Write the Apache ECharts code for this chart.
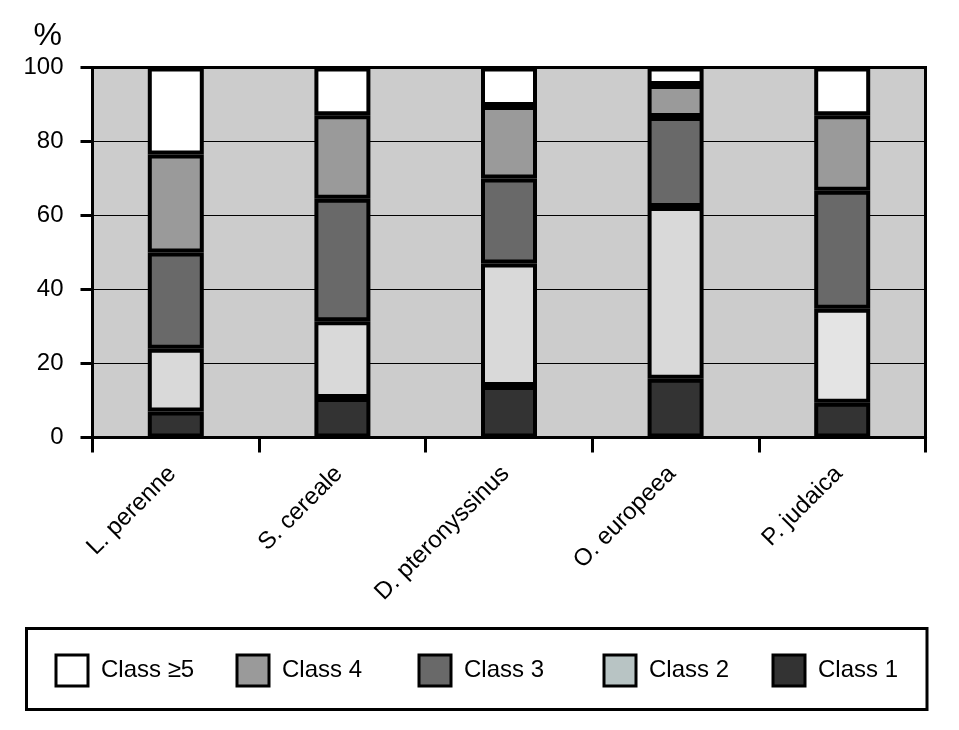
<!DOCTYPE html>
<html>
<head>
<meta charset="utf-8">
<script src="https://cdn.jsdelivr.net/npm/echarts@6/dist/echarts.min.js"></script>
<style>
html,body{margin:0;padding:0;background:#fff;}
#chart{width:959px;height:730px;}
</style>
</head>
<body>
<div id="chart"></div>
<script>
const categories = ['L. perenne', 'S. cereale', 'D. pteronyssinus', 'O. europeea', 'P. judaica'];
const yTicks = [0, 20, 40, 60, 80, 100];
const class1 = [7, 10.7, 13.9, 15.9, 9.4];
const class2 = [17, 20.7, 33.1, 46.4, 25.4];
const class3 = [26, 33.1, 23, 24.3, 31.9];
const class4 = [26.5, 22.6, 19.6, 8.7, 20.4];
const class5 = [23.5, 12.9, 10.4, 4.7, 12.9];
const seriesNames = ['Class 1', 'Class 2', 'Class 3', 'Class 4', 'Class \u22655'];

const seriesValues = [class1, class2, class3, class4, class5];
const seriesColors = ['#333333', '#d9d9d9', '#696969', '#9a9a9a', '#ffffff'];
const legendColors = {'Class 2': '#b8c4c4'};
const FONT = '"Liberation Sans", Arial, Helvetica, sans-serif';

const chart = echarts.init(document.getElementById('chart'), null, {renderer: 'canvas'});

const series = seriesNames.map((name, i) => ({
  name: name,
  type: 'bar',
  stack: 'total',
  barWidth: 56,
  data: seriesValues[i].map((v, j) => {
    const d = {value: v};
    if (i === 1 && j === 4) d.itemStyle = {color: '#e4e4e4'};
    return d;
  }),
  itemStyle: {color: seriesColors[i], borderColor: '#000', borderWidth: 4},
  emphasis: {disabled: true}
}));

const legendOrder = ['Class \u22655', 'Class 4', 'Class 3', 'Class 2', 'Class 1'];
const legendLeft = [54.5, 235.5, 417.5, 602.5, 771.5];
const legends = legendOrder.map((name, i) => ({
  show: true,
  left: legendLeft[i],
  top: 653.5,
  padding: 0,
  orient: 'horizontal',
  icon: 'rect',
  itemWidth: 32,
  itemHeight: 31,
  selectedMode: false,
  data: [legendColors[name] ? {name: name, itemStyle: {color: legendColors[name]}} : {name: name}],
  itemStyle: {borderColor: '#000', borderWidth: 3},
  textStyle: {fontFamily: FONT, fontSize: 24, color: '#000', padding: [0, 0, 0, 8]}
}));

chart.setOption({
  animation: false,
  backgroundColor: '#ffffff',
  grid: {
    left: 92.5, right: 33.5, top: 67.5, bottom: 292.5,
    show: true, backgroundColor: '#cccccc', borderColor: '#000', borderWidth: 3
  },
  legend: legends,
  graphic: [
    {type: 'rect', shape: {x: 26.5, y: 628.5, width: 900.5, height: 81}, style: {fill: 'none', stroke: '#000', lineWidth: 3}, silent: true},
    {type: 'text', x: 62, y: 20, style: {text: '%', fontFamily: FONT, fontSize: 32, fill: '#000', textAlign: 'right', textVerticalAlign: 'top'}, silent: true}
  ],
  xAxis: {
    type: 'category',
    data: categories,
    axisLine: {lineStyle: {color: '#000', width: 3}},
    axisTick: {show: true, interval: 0, length: 15, lineStyle: {color: '#000', width: 3}},
    axisLabel: {interval: 0, rotate: 45, margin: 29, padding: [0, 5, 0, 0], fontFamily: FONT, fontSize: 24, color: '#000'},
    splitLine: {show: false}
  },
  yAxis: {
    type: 'value',
    min: yTicks[0], max: yTicks[yTicks.length - 1], interval: 20,
    axisLine: {show: true, lineStyle: {color: '#000', width: 3}},
    axisTick: {show: true, length: 12, lineStyle: {color: '#000', width: 3}},
    axisLabel: {margin: 29, fontFamily: FONT, fontSize: 24, color: '#000'},
    splitLine: {show: true, lineStyle: {color: '#000', width: 1}}
  },
  series: series
});
</script>
</body>
</html>
